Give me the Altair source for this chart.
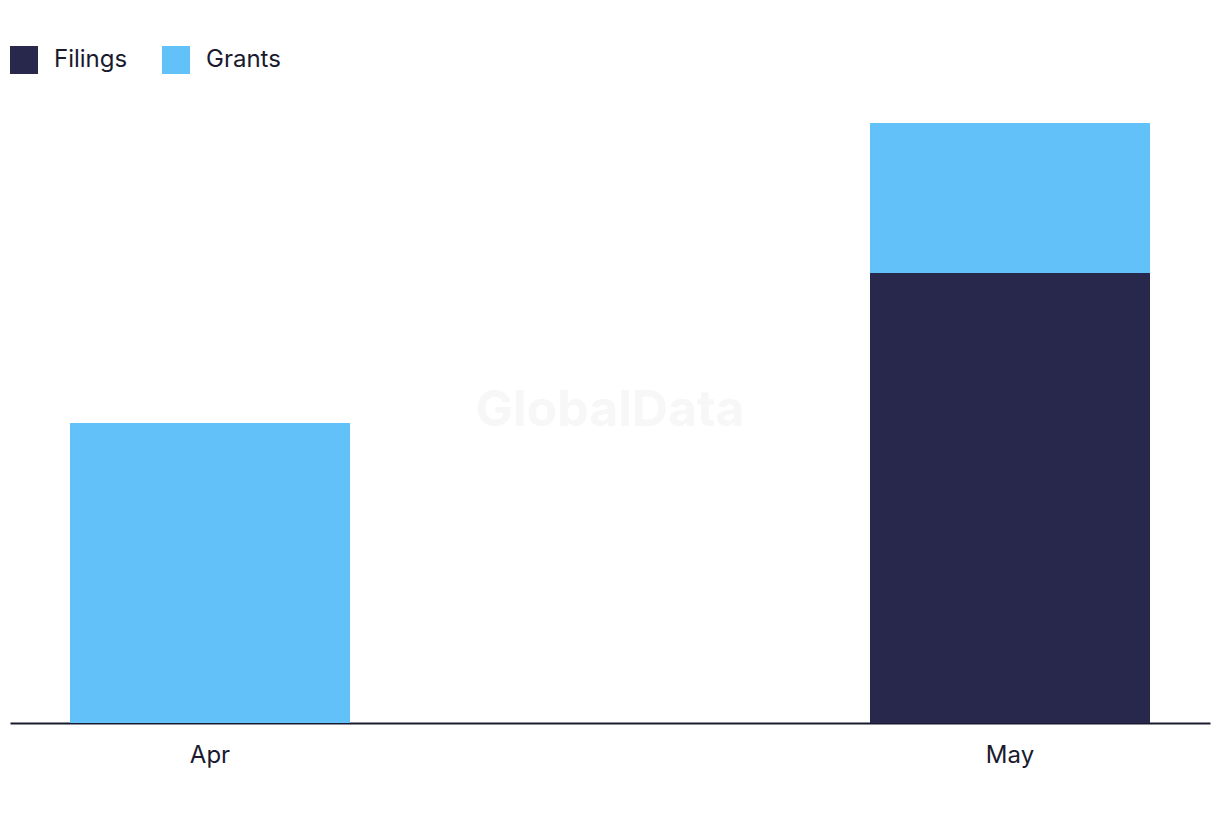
import altair as alt
import pandas as pd

months = ["Apr", "May"]
filings = [0, 3]
grants = [2, 1]
series_names = ["Filings", "Grants"]
series_colors = ["#28284d", "#62c1f9"]

rows = []
for i, m in enumerate(months):
    rows.append({"month": m, "series": "Filings", "value": filings[i], "ord": 0})
    rows.append({"month": m, "series": "Grants", "value": grants[i], "ord": 1})
df = pd.DataFrame(rows)

FONT = "Inter"

bars = alt.Chart(df).mark_bar(size=280).encode(
    x=alt.X("month:N", sort=months, title=None,
            scale=alt.Scale(paddingInner=0.65, paddingOuter=0.075),
            axis=alt.Axis(labelAngle=0, ticks=False, labelPadding=20, labelFontSize=24,
                          labelFont=FONT, labelColor="#1a1a2e", domainColor="#1a1a2e",
                          domainWidth=2, grid=False)),
    y=alt.Y("value:Q", stack="zero", title=None, scale=alt.Scale(domain=[0, 4], nice=False),
            axis=None),
    color=alt.Color("series:N", sort=series_names,
                    scale=alt.Scale(domain=series_names, range=series_colors),
                    legend=alt.Legend(title=None, orient="none", legendX=0, legendY=-77,
                                      direction="horizontal", symbolType="square",
                                      symbolSize=784, symbolStrokeWidth=0, labelFontSize=24,
                                      labelFont=FONT, labelColor="#1a1a2e", labelOffset=16,
                                      columnPadding=34, symbolOpacity=1)),
    order=alt.Order("ord:Q"),
)

watermark = alt.Chart(pd.DataFrame({"t": ["GlobalData"]})).mark_text(
    fontSize=50, font=FONT, fontWeight="bold", color="#f7f7f7", align="center", baseline="middle"
).encode(
    text="t:N",
    x=alt.value(600),
    y=alt.value(288),
)

chart = alt.layer(watermark, bars).properties(
    width=1200, height=600,
    background="white",
    autosize=alt.AutoSizeParams(type="none"),
    padding={"left": 2, "top": 115, "right": 2, "bottom": 80},
).configure_view(stroke=None, strokeWidth=0)

chart.save("out.html", embed_options={"renderer": "svg", "actions": False})
